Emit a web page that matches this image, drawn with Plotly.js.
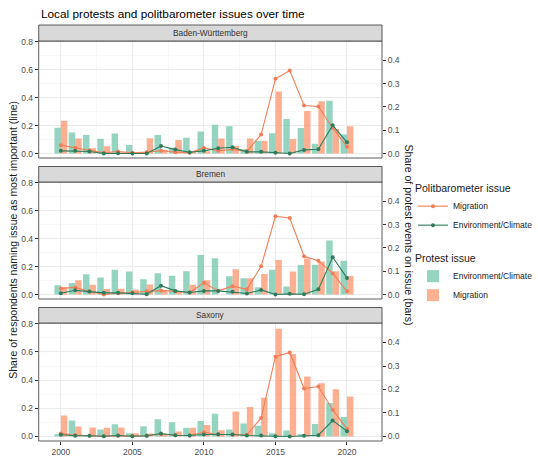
<!DOCTYPE html>
<html><head><meta charset="utf-8">
<script src="https://cdn.plot.ly/plotly-3.0.1.min.js"></script>
<style>html,body{margin:0;padding:0;background:#fff}#chart{width:538px;height:466px}</style>
</head><body><div id="chart"></div>
<script>
const years = [2000,2001,2002,2003,2004,2005,2006,2007,2008,2009,2010,2011,2012,2013,2014,2015,2016,2017,2018,2019,2020];
const states = ["Baden-Württemberg","Bremen","Saxony"];
const xTickVals = [2000,2005,2010,2015,2020];
const leftTickVals = [0,0.2,0.4,0.6,0.8];
const rightTickVals = [0,0.1,0.2,0.3,0.4];

// Protest event shares (bars, right axis)
const bwProtestEnv = [0.111,0.09,0.079,0.063,0.086,0.037,0,0.080,0.025,0.068,0.095,0.124,0.117,0.018,0.055,0.087,0.148,0.110,0.042,0.227,0.082];
const bwProtestMig = [0.141,0.065,0.023,0.031,0.005,0,0.066,0.015,0.058,0.008,0.01,0.065,0.032,0.065,0.055,0.266,0.062,0.183,0.224,0.105,0.117];
const hbProtestEnv = [0.04,0.05,0.087,0.073,0.106,0.099,0.066,0.091,0.081,0.1,0.17,0.156,0.078,0.07,0.031,0.106,0.034,0.127,0.128,0.232,0.145];
const hbProtestMig = [0.031,0.061,0.042,0.024,0.025,0.02,0.043,0.02,0.013,0.042,0.061,0,0.109,0.07,0.088,0.148,0.099,0.155,0.142,0.1,0.08];
const snProtestEnv = [0.01,0.068,0.004,0.03,0.052,0.014,0.044,0.073,0.061,0.037,0.066,0.097,0.03,0.055,0.046,0.014,0.025,0.011,0.053,0.142,0.083];
const snProtestMig = [0.089,0.042,0.038,0.037,0.038,0.014,0.013,0.008,0.021,0.037,0.049,0.027,0.106,0.125,0.165,0.459,0.351,0.255,0.227,0.201,0.170];

// Politbarometer shares (lines, left axis)
const bwPolitMig = [0.059,0.042,0.021,0.005,0.014,0.005,0.01,0.02,0.01,0.005,0.04,0.02,0.03,0.016,0.136,0.535,0.594,0.343,0.336,0.183,0.049];
const bwPolitEnv = [0.019,0.019,0.014,0,0.002,0,0,0.054,0.028,0.009,0.019,0.038,0.045,0.012,0.012,0.005,0,0.026,0.03,0.202,0.08];
const hbPolitMig = [0.044,0.051,0.021,0,0.009,0.014,0.023,0.028,0.023,0.014,0.084,0.026,0.06,0.037,0.202,0.56,0.547,0.274,0.242,0.151,0.023];
const hbPolitEnv = [0.009,0.03,0.021,0.012,0.012,0.009,0.002,0.063,0.026,0.014,0.026,0.026,0.019,0.007,0.033,0,0.005,0.002,0.037,0.267,0.119];
const snPolitMig = [0.021,0.01,0.005,0.002,0.005,0.002,0.005,0.016,0.009,0.007,0.03,0.014,0.014,0.012,0.131,0.566,0.596,0.34,0.354,0.19,0.054];
const snPolitEnv = [0.012,0.005,0.005,0.002,0.007,0.002,0.005,0.021,0.009,0.007,0.014,0.016,0.014,0.007,0.007,0.002,0,0.005,0.009,0.113,0.038];

const protestEnv = [bwProtestEnv, hbProtestEnv, snProtestEnv];
const protestMig = [bwProtestMig, hbProtestMig, snProtestMig];
const politMig = [bwPolitMig, hbPolitMig, snPolitMig];
const politEnv = [bwPolitEnv, hbPolitEnv, snPolitEnv];

const W = 538, H = 466;
const px = v => v / W, py = v => (H - v) / H;
const plotX0 = 39.5, plotX1 = 390;
const panels = [{top:41, bot:158, stripTop:25}, {top:182, bot:299, stripTop:166.5}, {top:323, bot:441, stripTop:307.5}];
const leftRange = [-0.032, 0.805];
const secScale = 0.6;
const rightRange = [leftRange[0]*secScale, leftRange[1]*secScale];

const colEnvBar = "rgba(102,194,165,0.7)", colMigBar = "rgba(252,141,98,0.7)";
const colEnvLine = "#2F7B5C", colMigLine = "#F27D56";
const tickFont = {family:"Liberation Sans, Arial, sans-serif", size:8.5, color:"#4D4D4D"};

const data = [];
const layout = {
  width:W, height:H, margin:{l:0,r:0,t:0,b:0},
  paper_bgcolor:"#fff", plot_bgcolor:"rgba(0,0,0,0)",
  barmode:"group", bargap:0.1, bargroupgap:0,
  font:{family:"Liberation Sans, Arial, sans-serif", color:"#1A1A1A"},
  showlegend:true,
  legend:{x:px(422), y:py(178), xanchor:"left", yanchor:"top",
    title:{text:"Politbarometer issue", font:{size:10.5, color:"#1A1A1A"}},
    font:{size:8.5, color:"#1A1A1A"}, tracegroupgap:2, itemwidth:30, bgcolor:"rgba(0,0,0,0)"},
  legend2:{x:px(422), y:py(248), xanchor:"left", yanchor:"top",
    title:{text:"Protest issue", font:{size:10.5, color:"#1A1A1A"}},
    font:{size:8.5, color:"#1A1A1A"}, itemwidth:30, bgcolor:"rgba(0,0,0,0)"},
  shapes:[], annotations:[]
};

panels.forEach((p, i) => {
  const xa = i === 0 ? "x" : "x" + (i + 1);
  const yb = i === 0 ? "y" : "y" + (2*i + 1);   // bars (right)
  const yl = "y" + (2*i + 2);                    // lines (left)
  const xKey = "xaxis" + (i === 0 ? "" : (i + 1));
  const ybKey = "yaxis" + (i === 0 ? "" : (2*i + 1));
  const ylKey = "yaxis" + (2*i + 2);
  const dom = [py(p.bot), py(p.top)];

  layout[xKey] = {domain:[px(plotX0), px(plotX1)], range:[1998.45, 2022.45], anchor:yb,
    tickvals:xTickVals, showticklabels: i === 2, ticks: i === 2 ? "outside" : "", ticklen:3, tickcolor:"#333",
    tickfont:tickFont, showgrid:true, gridcolor:"#EBEBEB", gridwidth:1, zeroline:false, showline:false,
    minor:{dtick:2.5, tick0:2000, showgrid:true, gridcolor:"#F3F3F3", gridwidth:0.6}, fixedrange:true};
  layout[ybKey] = {domain:dom, range:rightRange, anchor:xa, side:"right",
    tickvals:rightTickVals, ticktext:rightTickVals.map(v=>v.toFixed(1)), ticks:"outside", ticklen:3, tickcolor:"#333",
    tickfont:tickFont, showgrid:false, zeroline:false, showline:false, fixedrange:true};
  layout[ylKey] = {overlaying:yb, range:leftRange, anchor:xa, side:"left",
    tickvals:leftTickVals, ticktext:leftTickVals.map(v=>v.toFixed(1)), ticks:"outside", ticklen:3, tickcolor:"#333",
    tickfont:tickFont, showgrid:true, gridcolor:"#EBEBEB", gridwidth:1, zeroline:false, showline:false,
    minor:{dtick:0.1, showgrid:true, gridcolor:"#F3F3F3", gridwidth:0.6}, fixedrange:true};

  data.push({type:"bar", x:years, y:protestEnv[i], xaxis:xa, yaxis:yb, name:"Environment/Climate",
    marker:{color:colEnvBar, line:{width:0}}, legend:"legend2", showlegend:i===0, legendrank:1, hoverinfo:"skip"});
  data.push({type:"bar", x:years, y:protestMig[i], xaxis:xa, yaxis:yb, name:"Migration",
    marker:{color:colMigBar, line:{width:0}}, legend:"legend2", showlegend:i===0, legendrank:2, hoverinfo:"skip"});
  data.push({type:"scatter", mode:"lines+markers", x:years, y:politMig[i], xaxis:xa, yaxis:yl, name:"Migration",
    line:{color:colMigLine, width:1.1}, marker:{color:colMigLine, size:4}, legend:"legend", showlegend:i===0, legendrank:1, hoverinfo:"skip"});
  data.push({type:"scatter", mode:"lines+markers", x:years, y:politEnv[i], xaxis:xa, yaxis:yl, name:"Environment/Climate",
    line:{color:colEnvLine, width:1.1}, marker:{color:colEnvLine, size:4}, legend:"legend", showlegend:i===0, legendrank:2, hoverinfo:"skip"});

  // panel border
  layout.shapes.push({type:"rect", xref:"paper", yref:"paper", x0:px(plotX0), x1:px(plotX1), y0:py(p.bot), y1:py(p.top),
    line:{color:"#333", width:0.8}, fillcolor:"rgba(0,0,0,0)", layer:"above"});
  // strip
  layout.shapes.push({type:"rect", xref:"paper", yref:"paper", x0:px(plotX0), x1:px(plotX1), y0:py(p.top), y1:py(p.stripTop),
    line:{color:"#333", width:0.8}, fillcolor:"#D9D9D9", layer:"above"});
  layout.annotations.push({xref:"paper", yref:"paper", x:px((plotX0+plotX1)/2), y:py((p.top+p.stripTop)/2),
    text:states[i], showarrow:false, font:{size:8.3, color:"#333"}, xanchor:"center", yanchor:"middle"});
});

layout.annotations.push({xref:"paper", yref:"paper", x:px(40), y:py(14), xanchor:"left", yanchor:"middle",
  text:"Local protests and politbarometer issues over time", showarrow:false, font:{size:11.8, color:"#000"}});
layout.annotations.push({xref:"paper", yref:"paper", x:px(13), y:py(240), xanchor:"center", yanchor:"middle", textangle:-90,
  text:"Share of respondents naming issue as most important (line)", showarrow:false, font:{size:10.5, color:"#1A1A1A"}});
layout.annotations.push({xref:"paper", yref:"paper", x:px(418), y:py(235), xanchor:"center", yanchor:"middle", textangle:90,
  text:"Share of protest events on issue (bars)", showarrow:false, font:{size:10.5, color:"#1A1A1A"}});

Plotly.newPlot("chart", data, layout, {displayModeBar:false, staticPlot:true});
</script></body></html>
